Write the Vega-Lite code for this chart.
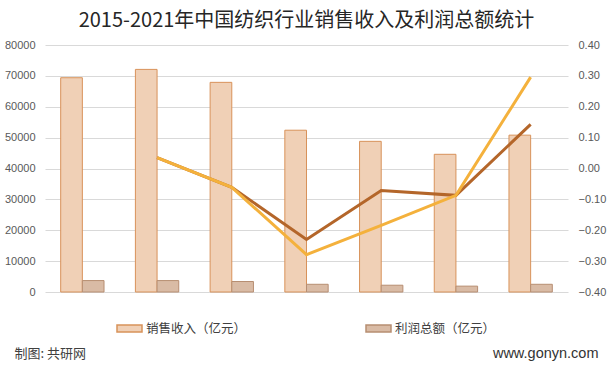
{
  "$schema": "https://vega.github.io/schema/vega-lite/v6.json",
  "width": 523,
  "height": 247,
  "autosize": {"type": "none"},
  "padding": {"left": 45, "top": 45, "right": 44, "bottom": 78},
  "background": "white",
  "title": {
    "text": "2015-2021年中国纺织行业销售收入及利润总额统计",
    "font": "Noto Sans CJK SC",
    "fontSize": 20,
    "fontWeight": "normal",
    "color": "#262626",
    "anchor": "middle",
    "frame": "group",
    "offset": 8
  },
  "config": {"view": {"stroke": null}, "font": "Noto Sans CJK SC"},
  "layer": [
    {
      "data": {
        "values": [
          {"年份": "2015", "指标": "销售收入（亿元）", "值": 69400},
          {"年份": "2015", "指标": "利润总额（亿元）", "值": 3700},
          {"年份": "2016", "指标": "销售收入（亿元）", "值": 72100},
          {"年份": "2016", "指标": "利润总额（亿元）", "值": 3700},
          {"年份": "2017", "指标": "销售收入（亿元）", "值": 67900},
          {"年份": "2017", "指标": "利润总额（亿元）", "值": 3400},
          {"年份": "2018", "指标": "销售收入（亿元）", "值": 52400},
          {"年份": "2018", "指标": "利润总额（亿元）", "值": 2500},
          {"年份": "2019", "指标": "销售收入（亿元）", "值": 48800},
          {"年份": "2019", "指标": "利润总额（亿元）", "值": 2200},
          {"年份": "2020", "指标": "销售收入（亿元）", "值": 44600},
          {"年份": "2020", "指标": "利润总额（亿元）", "值": 1900},
          {"年份": "2021", "指标": "销售收入（亿元）", "值": 50800},
          {"年份": "2021", "指标": "利润总额（亿元）", "值": 2500}
        ]
      },
      "mark": {"type": "bar", "strokeWidth": 1},
      "encoding": {
        "x": {
          "field": "年份",
          "type": "nominal",
          "scale": {"paddingInner": 0.42, "paddingOuter": 0.21},
          "axis": {
            "labelAngle": 0,
            "labelFontWeight": "bold",
            "labelFontSize": 11,
            "labelColor": "#1a1a1a",
            "labelFont": "Liberation Sans",
            "ticks": false,
            "domain": true,
            "domainColor": "#D9D9D9",
            "labelPadding": 9,
            "title": null
          }
        },
        "xOffset": {
          "field": "指标",
          "type": "nominal",
          "scale": {"domain": ["销售收入（亿元）", "利润总额（亿元）"], "paddingInner": 0, "paddingOuter": 0}
        },
        "y": {
          "field": "值",
          "type": "quantitative",
          "scale": {"domain": [0, 80000], "nice": false},
          "axis": {
            "values": [0, 10000, 20000, 30000, 40000, 50000, 60000, 70000, 80000],
            "format": "d",
            "labelColor": "#595959",
            "labelFontSize": 11,
            "labelFont": "Liberation Sans",
            "grid": true,
            "gridColor": "#D9D9D9",
            "domain": false,
            "ticks": false,
            "labelPadding": 10,
            "title": "制图: 共研网",
            "titleAngle": 0,
            "titleX": -31,
            "titleY": 308,
            "titleAlign": "left",
            "titleBaseline": "middle",
            "titleFont": "Noto Sans CJK SC",
            "titleFontSize": 13,
            "titleFontWeight": "normal",
            "titleColor": "#404040"
          }
        },
        "fill": {
          "field": "指标",
          "type": "nominal",
          "scale": {"domain": ["销售收入（亿元）", "利润总额（亿元）"], "range": ["#F0D0B6", "#D9BBA5"]},
          "legend": {
            "orient": "none",
            "legendX": 71,
            "legendY": 270,
            "direction": "horizontal",
            "columnPadding": 116,
            "symbolType": "M-1,-0.28H1V0.28H-1Z",
            "symbolSize": 625,
            "symbolStrokeWidth": 1.5,
            "labelFont": "Noto Sans CJK SC",
            "labelFontSize": 12.5,
            "labelColor": "#404040",
            "labelOffset": 3,
            "title": null,
            "padding": 0
          }
        },
        "stroke": {
          "field": "指标",
          "type": "nominal",
          "scale": {"domain": ["销售收入（亿元）", "利润总额（亿元）"], "range": ["#D8925A", "#B78E72"]},
          "legend": {
            "orient": "none",
            "legendX": 71,
            "legendY": 270,
            "direction": "horizontal",
            "columnPadding": 116,
            "symbolType": "M-1,-0.28H1V0.28H-1Z",
            "symbolSize": 625,
            "symbolStrokeWidth": 1.5,
            "labelFont": "Noto Sans CJK SC",
            "labelFontSize": 12.5,
            "labelColor": "#404040",
            "labelOffset": 3,
            "title": null,
            "padding": 0
          }
        }
      }
    },
    {
      "data": {
        "values": [
          {"年份": "2016", "增速": 0.035},
          {"年份": "2017", "增速": -0.061},
          {"年份": "2018", "增速": -0.23},
          {"年份": "2019", "增速": -0.071},
          {"年份": "2020", "增速": -0.087},
          {"年份": "2021", "增速": 0.143}
        ]
      },
      "mark": {"type": "line", "strokeWidth": 3, "color": "#B4662A"},
      "encoding": {
        "x": {"field": "年份", "type": "nominal", "axis": null},
        "y": {
          "field": "增速",
          "type": "quantitative",
          "scale": {"domain": [-0.4, 0.4], "nice": false},
          "axis": {
            "orient": "right",
            "values": [-0.4, -0.3, -0.2, -0.1, 0, 0.1, 0.2, 0.3, 0.4],
            "format": ".2f",
            "labelColor": "#595959",
            "labelFontSize": 11,
            "labelFont": "Liberation Sans",
            "grid": false,
            "domain": false,
            "ticks": false,
            "labelPadding": 10,
            "title": "www.gonyn.com",
            "titleAngle": 0,
            "titleX": 30,
            "titleY": 308,
            "titleAlign": "right",
            "titleBaseline": "middle",
            "titleFont": "Liberation Sans",
            "titleFontSize": 14.5,
            "titleFontWeight": "normal",
            "titleColor": "#333333"
          }
        }
      }
    },
    {
      "data": {
        "values": [
          {"年份": "2016", "增速": 0.035},
          {"年份": "2017", "增速": -0.061},
          {"年份": "2018", "增速": -0.279},
          {"年份": "2019", "增速": -0.184},
          {"年份": "2020", "增速": -0.087},
          {"年份": "2021", "增速": 0.296}
        ]
      },
      "mark": {"type": "line", "strokeWidth": 3, "color": "#F4B13C"},
      "encoding": {
        "x": {"field": "年份", "type": "nominal", "axis": null},
        "y": {"field": "增速", "type": "quantitative", "scale": {"domain": [-0.4, 0.4], "nice": false}, "axis": null}
      }
    }
  ],
  "resolve": {"scale": {"y": "independent"}}
}
